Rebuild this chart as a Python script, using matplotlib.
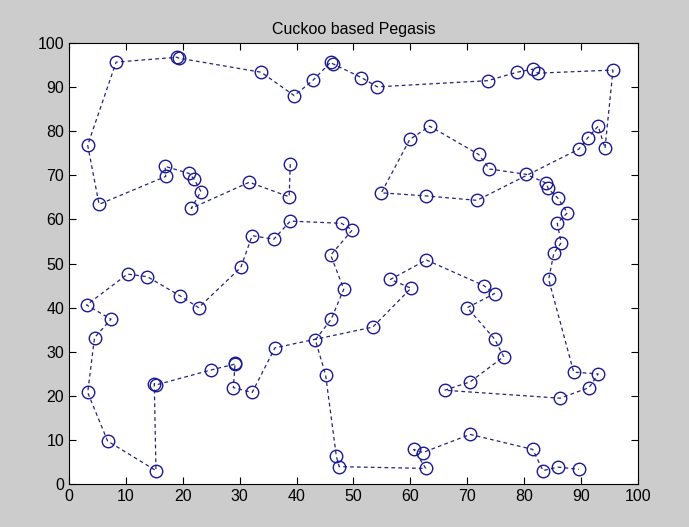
import matplotlib
matplotlib.use("Agg")
import matplotlib.pyplot as plt

# chain order of the nodes
x_nodes = [38.9, 38.7, 31.7, 21.5, 23.2, 22.0, 21.1, 16.9, 17.0, 5.3,
           3.3, 8.3, 19.0, 19.3, 33.8, 39.6, 42.9, 46.0, 46.4, 51.4,
           54.2, 73.6, 78.7, 81.5, 82.4, 95.6, 94.2, 93.0, 91.2, 89.6,
           71.7, 62.8, 54.9, 59.9, 63.4, 72.0, 73.9, 80.3, 83.9, 84.2,
           85.9, 87.6, 85.8, 86.5, 85.2, 84.3, 88.7, 93.0, 91.4, 86.3,
           66.0, 70.5, 76.4, 74.8, 70.0, 74.8, 72.9, 62.8, 56.5, 60.1,
           53.4, 36.2, 32.2, 28.9, 29.2, 29.1, 25.0, 15.3, 15.0, 15.3,
           6.8, 3.3, 4.5, 7.4, 3.1, 10.3, 13.8, 19.5, 22.8, 30.2,
           32.2, 36.0, 38.9, 47.9, 49.8, 46.0, 48.3, 46.1, 43.3, 45.1,
           47.0, 47.5, 62.7, 60.6, 62.2, 70.5, 81.5, 83.3, 85.9, 89.6]
y_nodes = [72.5, 65.1, 68.4, 62.5, 66.3, 69.1, 70.4, 72.0, 69.7, 63.4,
           76.8, 95.6, 96.7, 96.5, 93.3, 88.0, 91.5, 95.6, 95.2, 92.1,
           90.0, 91.4, 93.3, 94.0, 93.1, 93.8, 76.1, 81.1, 78.5, 75.9,
           64.3, 65.3, 66.0, 78.1, 81.1, 74.7, 71.4, 70.2, 68.2, 67.0,
           64.8, 61.5, 59.1, 54.7, 52.3, 46.4, 25.4, 25.0, 21.9, 19.5,
           21.3, 23.2, 28.9, 32.9, 40.0, 43.2, 45.0, 50.8, 46.4, 44.4,
           35.6, 30.9, 20.8, 21.9, 27.4, 27.2, 25.9, 22.5, 22.8, 3.1,
           9.8, 20.8, 33.2, 37.4, 40.6, 47.6, 47.0, 42.7, 40.0, 49.1,
           56.3, 55.5, 59.6, 59.1, 57.6, 51.9, 44.2, 37.4, 32.7, 24.8,
           6.3, 4.0, 3.6, 7.9, 7.2, 11.3, 7.9, 3.1, 3.9, 3.4]

x_ticks = [0, 10, 20, 30, 40, 50, 60, 70, 80, 90, 100]
y_ticks = [0, 10, 20, 30, 40, 50, 60, 70, 80, 90, 100]

plt.rcParams['font.family'] = ['Liberation Sans', 'DejaVu Sans']

fig = plt.figure(figsize=(6.89, 5.27), dpi=100, facecolor='#cccccc')
ax = fig.add_axes([0.100, 0.081, 0.826, 0.838])

ax.plot(x_nodes, y_nodes, linestyle='--', color='#24247a', linewidth=0.9,
        dashes=(3, 2.5), marker='o', markersize=9, markerfacecolor='none',
        markeredgecolor='#1a1a96', markeredgewidth=1.0)

ax.set_xlim(0, 100)
ax.set_ylim(0, 100)
ax.set_xticks(x_ticks)
ax.set_yticks(y_ticks)
ax.tick_params(direction='in', top=True, right=True, length=5,
               labelsize=11.5, colors='black')
for s in ax.spines.values():
    s.set_linewidth(0.8)
ax.set_title("Cuckoo based Pegasis", fontsize=11.5, pad=6)

fig.savefig("out.png", dpi=100, facecolor=fig.get_facecolor())
